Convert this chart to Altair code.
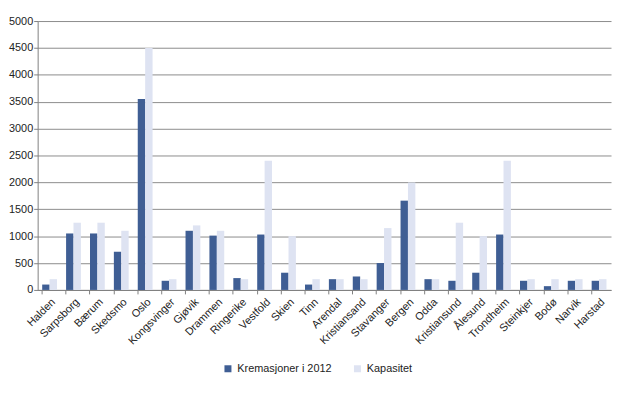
import altair as alt
import pandas as pd

steder = ["Halden", "Sarpsborg", "Bærum", "Skedsmo", "Oslo", "Kongsvinger", "Gjøvik",
          "Drammen", "Ringerike", "Vestfold", "Skien", "Tinn", "Arendal", "Kristiansand",
          "Stavanger", "Bergen", "Odda", "Kristiansund", "Ålesund", "Trondheim",
          "Steinkjer", "Bodø", "Narvik", "Harstad"]
kremasjoner = [100, 1050, 1050, 710, 3550, 170, 1100, 1010, 220, 1030, 320, 100, 200, 250,
               500, 1660, 200, 170, 320, 1030, 170, 70, 170, 170]
kapasitet = [200, 1250, 1250, 1100, 4500, 200, 1200, 1100, 200, 2400, 1000, 200, 200, 200,
             1150, 2000, 200, 1250, 1000, 2400, 200, 200, 200, 200]
serier = ["Kremasjoner i 2012", "Kapasitet"]
farger = ["#3F5E94", "#DEE3F2"]

rows = []
for s, a, b in zip(steder, kremasjoner, kapasitet):
    rows.append({"Sted": s, "Serie": serier[0], "Verdi": a})
    rows.append({"Sted": s, "Serie": serier[1], "Verdi": b})
df = pd.DataFrame(rows)

font = "Liberation Sans"

chart = alt.Chart(df).mark_bar().encode(
    x=alt.X("Sted:N", sort=steder, title=None,
            scale=alt.Scale(paddingInner=0.38, paddingOuter=0.19),
            axis=alt.Axis(labelAngle=-45, labelFontSize=11, labelColor="#222222",
                          labelFont=font, bandPosition=0, tickSize=4, tickColor="#808080",
                          domainColor="#808080", labelPadding=2, grid=False)),
    xOffset=alt.XOffset("Serie:N", sort=serier),
    y=alt.Y("Verdi:Q", title=None,
            scale=alt.Scale(domain=[0, 5000], nice=False),
            axis=alt.Axis(values=list(range(0, 5001, 500)), format="d", labelFontSize=11,
                          labelColor="#222222", labelFont=font, tickSize=4,
                          tickColor="#808080", domainColor="#808080",
                          gridColor="#8C8C8C", gridWidth=1, labelPadding=1)),
    color=alt.Color("Serie:N", sort=serier,
                    scale=alt.Scale(domain=serier, range=farger),
                    legend=alt.Legend(title=None, orient="none", direction="horizontal",
                                      legendX=187, legendY=346, symbolType="square",
                                      symbolSize=50, labelFontSize=11, labelFont=font,
                                      labelColor="#222222", columnPadding=20,
                                      symbolStrokeWidth=0, labelOffset=4)),
).properties(
    width=580, height=272,
    autosize=alt.AutoSizeParams(type="none"),
    padding={"left": 30, "top": 11, "right": 1, "bottom": 96},
).configure_view(stroke=None)

chart.save("out.html", embed_options={"renderer": "svg", "actions": False})
